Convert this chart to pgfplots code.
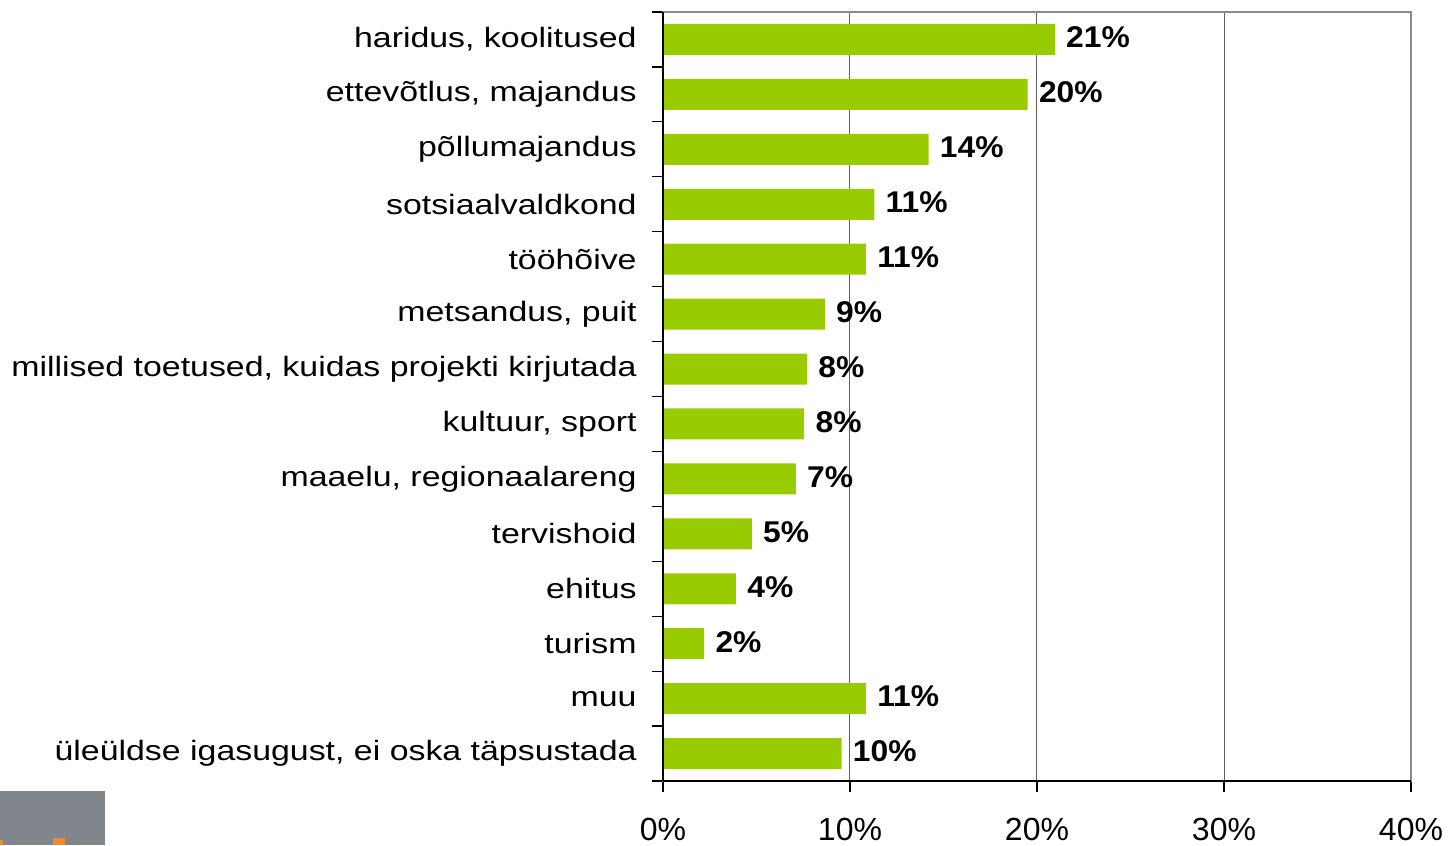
\documentclass[border=0pt]{standalone}
\usepackage{pgfplots}
\pgfplotsset{compat=1.18}
\usepackage{fontspec}
\setmainfont{Liberation Sans}
\newfontfamily\labfont[FakeStretch=1.21]{Liberation Sans}
\newfontfamily\pctfont[FakeStretch=1.06]{Liberation Sans}
\definecolor{bargreen}{HTML}{99CC00}
\definecolor{framegray}{HTML}{8A8A8A}
\definecolor{gridgray}{HTML}{606060}
\definecolor{logogray}{HTML}{80868B}
\definecolor{logoorange}{HTML}{F08A30}
\begin{document}
\begin{tikzpicture}
\useasboundingbox (-331.5pt,-32pt) rectangle (393pt,390.5pt);
\begin{axis}[
  at={(0,0)}, anchor=south west,
  scale only axis, width=374pt, height=384.5pt,
  xbar, bar width=15.5pt,
  xmin=0, xmax=40, ymin=-0.5, ymax=13.5, y dir=reverse,
  xtick={0,10,20,30,40},
  xticklabel={\pgfmathprintnumber{\tick}\%},
  /pgf/number format/assume math mode=true,
  ytick={0,1,2,3,4,5,6,7,8,9,10,11,12,13},
  yticklabels={{haridus, koolitused},{ettevõtlus, majandus},{põllumajandus},{sotsiaalvaldkond},{tööhõive},{metsandus, puit},{millised toetused, kuidas projekti kirjutada},{kultuur, sport},{maaelu, regionaalareng},{tervishoid},{ehitus},{turism},{muu},{üleüldse igasugust, ei oska täpsustada}},
  minor ytick={-0.5,0.5,1.5,2.5,3.5,4.5,5.5,6.5,7.5,8.5,9.5,10.5,11.5,12.5,13.5},
  tick align=outside,
  major tick length=5.5pt, minor tick length=5.5pt,
  tick style={black, line width=0.6pt},
  ytick style={draw=none},
  minor y tick style={draw=black, line width=0.6pt},
  xtick pos=bottom, ytick pos=left,
  xmajorgrids, grid style={gridgray, line width=0.5pt},
  axis line style={framegray, line width=1.1pt},
  yticklabel style={font=\labfont\fontsize{14}{17}\selectfont, anchor=east, inner sep=0pt, xshift=-7.5pt},
  xticklabel style={font=\fontsize{16}{19}\selectfont, anchor=north, inner sep=0pt, yshift=-13pt},
  point meta=explicit symbolic,
  nodes near coords,
  nodes near coords style={font=\pctfont\bfseries\fontsize{15}{18}\selectfont, anchor=west, inner sep=0pt, xshift=5.5pt, yshift=1pt, black},
]
\addplot[fill=bargreen, draw=none] coordinates {
  (20.95,0) [21\%]
  (19.5,1) [20\%]
  (14.2,2) [14\%]
  (11.3,3) [11\%]
  (10.85,4) [11\%]
  (8.65,5) [9\%]
  (7.7,6) [8\%]
  (7.55,7) [8\%]
  (7.1,8) [7\%]
  (4.75,9) [5\%]
  (3.9,10) [4\%]
  (2.2,11) [2\%]
  (10.85,12) [11\%]
  (9.55,13) [10\%]
};
\end{axis}
\draw[black, line width=0.8pt] (0,0) -- (0,384.5pt);
\draw[black, line width=0.8pt] (0,0) -- (374pt,0);
\fill[logogray] (-331.5pt,-5pt) rectangle (-279pt,-32pt);
\fill[logoorange] (-305pt,-28.5pt) rectangle (-299pt,-32pt);
\fill[logoorange] (-331.5pt,-29.5pt) rectangle (-330pt,-32pt);
\end{tikzpicture}
\end{document}
